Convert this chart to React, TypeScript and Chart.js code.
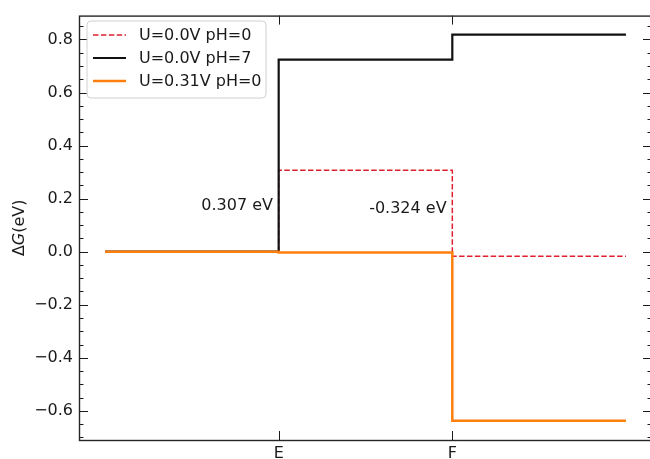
import React, { useEffect, useRef } from 'react';
import { Chart, registerables } from 'chart.js';

Chart.register(...registerables);

// Reaction states sit on plateaus [i, i+1]; ticks mark the E and F plateaus.
const xTickValues = [1, 2];
const xTickLabels = ['E', 'F'];
const yTickValues = [-0.6, -0.4, -0.2, 0.0, 0.2, 0.4, 0.6, 0.8];

const seriesLabels = ['U=0.0V pH=0', 'U=0.0V pH=7', 'U=0.31V pH=0'];
const levelsU0pH0 = [0, 0.307, -0.017];
const levelsU0pH7 = [0, 0.724, 0.818];
const levelsU031pH0 = [0, -0.003, -0.637];

const noteTexts = ['0.307 eV', '-0.324 eV'];
const noteX = [0.967, 1.967];
const noteY = [0.173, 0.161];

const FONT = '"DejaVu Sans", sans-serif';
const FS = 16;
const INK = '#1a1a1a';

const CANVAS_W = 660;
const CANVAS_H = 459;

function stepPoints(levels: number[]) {
  return levels.flatMap((v, i) => [
    { x: i, y: v },
    { x: i + 1, y: v },
  ]);
}

function minus(s: string) {
  return s.replace('-', '\u2212');
}

const decorPlugin = {
  id: 'decor',
  afterDatasetsDraw(chart: any) {
    const { ctx, chartArea: a, scales } = chart;
    const x = scales.x;
    const y = scales.y;
    ctx.save();

    const seg = (x1: number, y1: number, x2: number, y2: number) => {
      ctx.beginPath();
      ctx.moveTo(x1, y1);
      ctx.lineTo(x2, y2);
      ctx.stroke();
    };

    // tick marks, pointing inwards on all sides
    ctx.strokeStyle = INK;
    ctx.lineWidth = 1;
    const majorLen = 9;
    const minorLen = 4.5;
    const yMajorSet = new Set(yTickValues.map((v) => Math.round(v * 100)));
    for (let k = -14; k <= 17; k++) {
      const v = k * 0.05;
      const py = Math.round(y.getPixelForValue(v)) + 0.5;
      const isMajor = yMajorSet.has(Math.round(v * 100));
      const len = isMajor ? majorLen : minorLen;
      seg(a.left, py, a.left + len, py);
      seg(a.right, py, a.right - len, py);
    }
    for (const v of xTickValues) {
      const px = Math.round(x.getPixelForValue(v)) + 0.5;
      seg(px, a.bottom, px, a.bottom - majorLen);
      seg(px, a.top, px, a.top + majorLen);
    }

    // axes frame
    ctx.strokeStyle = '#262626';
    ctx.lineWidth = 1.4;
    ctx.strokeRect(a.left + 0.5, a.top + 0.5, a.width, a.height);

    // step-change annotations
    ctx.fillStyle = INK;
    ctx.font = `${FS}px ${FONT}`;
    ctx.textAlign = 'right';
    ctx.textBaseline = 'middle';
    noteTexts.forEach((t, i) => {
      ctx.fillText(t, x.getPixelForValue(noteX[i]), y.getPixelForValue(noteY[i]));
    });

    // y-axis title: ΔG(eV) with italic G
    ctx.save();
    ctx.translate(20, (a.top + a.bottom) / 2);
    ctx.rotate(-Math.PI / 2);
    ctx.textBaseline = 'middle';
    ctx.textAlign = 'left';
    const parts = [
      { t: '\u0394', f: `${FS}px ${FONT}` },
      { t: 'G', f: `italic ${FS}px ${FONT}` },
      { t: '(eV)', f: `${FS}px ${FONT}` },
    ];
    let total = 0;
    for (const p of parts) {
      ctx.font = p.f;
      total += ctx.measureText(p.t).width;
    }
    let cx = -total / 2;
    for (const p of parts) {
      ctx.font = p.f;
      ctx.fillText(p.t, cx, 0);
      cx += ctx.measureText(p.t).width;
    }
    ctx.restore();

    // legend box
    const lx = 87;
    const ly = 21;
    const lw = 179;
    const lh = 77;
    const r = 4;
    ctx.beginPath();
    ctx.moveTo(lx + r, ly);
    ctx.arcTo(lx + lw, ly, lx + lw, ly + lh, r);
    ctx.arcTo(lx + lw, ly + lh, lx, ly + lh, r);
    ctx.arcTo(lx, ly + lh, lx, ly, r);
    ctx.arcTo(lx, ly, lx + lw, ly, r);
    ctx.closePath();
    ctx.fillStyle = 'rgba(255,255,255,0.8)';
    ctx.fill();
    ctx.strokeStyle = '#d0d0d0';
    ctx.lineWidth = 1;
    ctx.stroke();

    ctx.font = `${FS}px ${FONT}`;
    ctx.textAlign = 'left';
    ctx.textBaseline = 'middle';
    chart.data.datasets.forEach((ds: any, i: number) => {
      const rowY = ly + 14 + i * 23;
      ctx.strokeStyle = ds.borderColor;
      ctx.lineWidth = ds.borderWidth;
      ctx.setLineDash(ds.borderDash || []);
      seg(lx + 6, rowY, lx + 39, rowY);
      ctx.setLineDash([]);
      ctx.fillStyle = INK;
      ctx.fillText(ds.label, lx + 52, rowY + 1);
    });

    ctx.restore();
  },
};

export default function App() {
  const ref = useRef<HTMLCanvasElement>(null);

  useEffect(() => {
    if (!ref.current) return;
    const chart = new Chart(ref.current, {
      type: 'line',
      data: {
        datasets: [
          {
            label: seriesLabels[0],
            data: stepPoints(levelsU0pH0),
            borderColor: '#e0202e',
            borderWidth: 1.5,
            borderDash: [5.5, 2.4],
            pointRadius: 0,
            fill: false,
            order: 2,
          },
          {
            label: seriesLabels[1],
            data: stepPoints(levelsU0pH7),
            borderColor: '#111111',
            borderWidth: 2.2,
            pointRadius: 0,
            fill: false,
            order: 1,
          },
          {
            label: seriesLabels[2],
            data: stepPoints(levelsU031pH0),
            borderColor: '#ff7f0e',
            borderWidth: 2.5,
            pointRadius: 0,
            fill: false,
            order: 0,
          },
        ],
      },
      options: {
        animation: false,
        responsive: false,
        devicePixelRatio: 1,
        events: [],
        layout: { padding: { top: 14, right: CANVAS_W - 652, left: 0, bottom: 0 } },
        plugins: { legend: { display: false }, tooltip: { enabled: false } },
        elements: { line: { tension: 0, borderCapStyle: 'butt', borderJoinStyle: 'miter' } },
        scales: {
          x: {
            type: 'linear',
            min: -0.15,
            max: 3.15,
            grid: { display: false, drawTicks: false },
            border: { display: false },
            afterBuildTicks: (s: any) => {
              s.ticks = xTickValues.map((v) => ({ value: v }));
            },
            afterFit: (s: any) => {
              s.height = 19;
            },
            ticks: {
              autoSkip: false,
              maxRotation: 0,
              padding: 4,
              color: INK,
              font: { family: FONT, size: FS },
              callback: (_v: any, i: number) => xTickLabels[i],
            },
          },
          y: {
            type: 'linear',
            min: -0.71,
            max: 0.89,
            grid: { display: false, drawTicks: false },
            border: { display: false },
            afterBuildTicks: (s: any) => {
              s.ticks = yTickValues.map((v) => ({ value: v }));
            },
            afterFit: (s: any) => {
              s.width = 79;
            },
            ticks: {
              autoSkip: false,
              padding: 6,
              color: INK,
              font: { family: FONT, size: FS },
              callback: (v: any) => minus(Number(v).toFixed(1)),
            },
          },
        },
      },
      plugins: [decorPlugin],
    } as any);
    return () => chart.destroy();
  }, []);

  return (
    <canvas
      ref={ref}
      width={CANVAS_W}
      height={CANVAS_H}
      style={{ position: 'fixed', left: 0, top: 0, width: CANVAS_W, height: CANVAS_H, background: '#fff' }}
    />
  );
}
